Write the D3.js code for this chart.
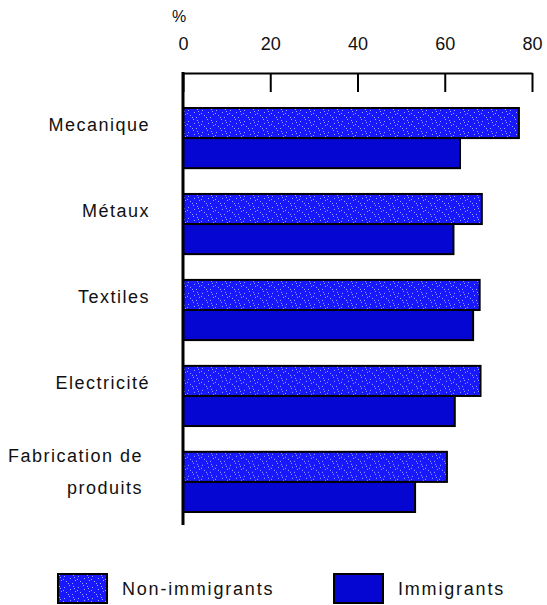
<!DOCTYPE html>
<html>
<head>
<meta charset="utf-8">
<script src="https://cdn.jsdelivr.net/npm/d3@7"></script>
<style>
  body { margin: 0; background: #fff; }
  text { font-family: "Liberation Sans", Arial, sans-serif; fill: #111; }
</style>
</head>
<body>
<div id="chart"></div>
<script>
// data
var categories = ["Mecanique", "Métaux", "Textiles", "Electricité", "Fabrication de produits"];
var labelLines = [["Mecanique"], ["Métaux"], ["Textiles"], ["Electricité"], ["Fabrication de", "produits"]];
var nonImmigrants = [77, 68.5, 68, 68.2, 60.5];
var immigrants = [63.5, 62, 66.5, 62.3, 53.2];
var seriesNames = ["Non-immigrants", "Immigrants"];
var tickValues = [0, 20, 40, 60, 80];

var W = 547, H = 605;

//Set up scales
var x = d3.scaleLinear().domain([0, 80]).range([183, 532]);
var y = d3.scaleBand().domain(categories).range([108, 512]).paddingInner(0.3).paddingOuter(0);
var sub = d3.scaleBand().domain(seriesNames).range([0, y.bandwidth()]);

var svg = d3.select("#chart").append("svg")
  .attr("width", W)
  .attr("height", H);

//stipple pattern for non-immigrants
var defs = svg.append("defs");
var pat = defs.append("pattern")
  .attr("id", "stipple")
  .attr("patternUnits", "userSpaceOnUse")
  .attr("width", 14).attr("height", 11);
pat.append("rect").attr("width", 14).attr("height", 11).attr("fill", "#1818ff");
[[1,1],[6,2],[11,0],[3,6],[8,7],[12,4],[0,9],[5,5],[10,9],[2,3]].forEach(function(p){
  pat.append("rect").attr("x", p[0]).attr("y", p[1]).attr("width", 1).attr("height", 1)
    .attr("fill", "#9aa8f0");
});

var fills = {"Non-immigrants": "url(#stipple)", "Immigrants": "#0606d2"};

//top axis, ticks pointing down
var axisY = 73;
var g = svg.append("g")
  .attr("transform", "translate(0," + axisY + ")")
  .call(d3.axisTop(x).tickValues(tickValues).tickSizeInner(-19).tickSizeOuter(0).tickPadding(23));
g.select(".domain").attr("stroke", "#000").attr("stroke-width", 2);
g.selectAll(".tick line").attr("stroke", "#000").attr("stroke-width", 2);
g.selectAll(".tick text")
  .style("font-size", "18px")
  .style("fill", "#111")
  .attr("font-family", null);

svg.append("text")
  .attr("x", x(0) - 4)
  .attr("y", 22)
  .attr("text-anchor", "middle")
  .style("font-size", "16px")
  .text("%");

//bars
var rows = svg.selectAll("g.row")
  .data(categories)
  .enter().append("g")
  .attr("class", "row")
  .attr("transform", function(d){ return "translate(0," + y(d) + ")"; });

rows.append("rect")
  .attr("x", x(0))
  .attr("y", sub("Non-immigrants"))
  .attr("width", function(d, i){ return x(nonImmigrants[i]) - x(0); })
  .attr("height", sub.bandwidth())
  .attr("fill", fills["Non-immigrants"])
  .attr("stroke", "#000")
  .attr("stroke-width", 2);

rows.append("rect")
  .attr("x", x(0))
  .attr("y", sub("Immigrants"))
  .attr("width", function(d, i){ return x(immigrants[i]) - x(0); })
  .attr("height", sub.bandwidth())
  .attr("fill", fills["Immigrants"])
  .attr("stroke", "#000")
  .attr("stroke-width", 2);

//category labels
rows.each(function(d, i){
  var lines = labelLines[i];
  var t = d3.select(this).append("text")
    .attr("text-anchor", "end")
    .style("font-size", "18px")
    .style("letter-spacing", "1.5px");
  if (lines.length === 1) {
    t.attr("x", 150).attr("y", sub("Non-immigrants") + sub.bandwidth() / 2 + 8).text(lines[0]);
  } else {
    t.selectAll("tspan").data(lines).enter().append("tspan")
      .attr("x", 143)
      .attr("y", function(l, j){ return j * 32 + 10; })
      .text(function(l){ return l; });
  }
});

//left axis line
svg.append("line")
  .attr("x1", x(0)).attr("x2", x(0))
  .attr("y1", axisY - 1).attr("y2", 525)
  .attr("stroke", "#000")
  .attr("stroke-width", 3);

//legend
var legendX = [58, 334];
var legend = svg.selectAll("g.legend")
  .data(seriesNames)
  .enter().append("g")
  .attr("class", "legend")
  .attr("transform", function(d, i){ return "translate(" + legendX[i] + ",574)"; });
legend.append("rect")
  .attr("width", 49).attr("height", 29)
  .attr("fill", function(d){ return fills[d]; })
  .attr("stroke", "#000")
  .attr("stroke-width", 2);
legend.append("text")
  .attr("x", 64)
  .attr("y", 21)
  .style("font-size", "18px")
  .style("letter-spacing", "1.8px")
  .text(function(d){ return d; });
</script>
</body>
</html>
